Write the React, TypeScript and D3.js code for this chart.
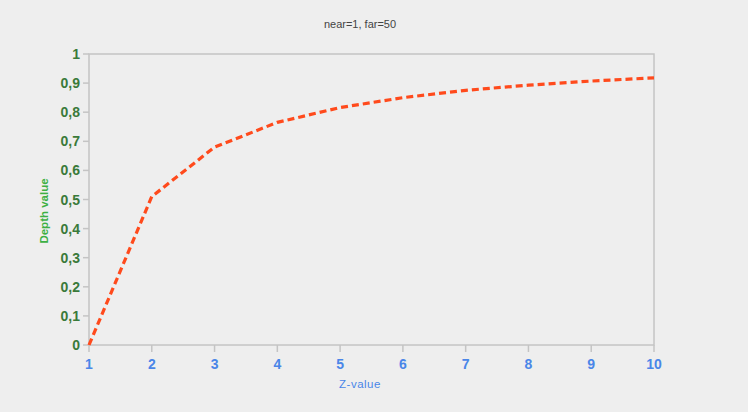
import React from "react";
import * as d3 from "d3";

const zValues = [1, 2, 3, 4, 5, 6, 7, 8, 9, 10];
const depthValues = [0, 0.51, 0.68, 0.765, 0.816, 0.85, 0.875, 0.893, 0.907, 0.918];
const yTicks = [0, 0.1, 0.2, 0.3, 0.4, 0.5, 0.6, 0.7, 0.8, 0.9, 1];
const xTicks = [1, 2, 3, 4, 5, 6, 7, 8, 9, 10];
const titleText = "near=1, far=50";
const xLabel = "Z-value";
const yLabel = "Depth value";

const W = 748, H = 412;
const left = 89, right = 654, top = 54, bottom = 345;

export default function App() {
  const x = d3.scaleLinear().domain([1, 10]).range([left, right]);
  const y = d3.scaleLinear().domain([0, 1]).range([bottom, top]);
  const line = d3.line<number>().x((_, i) => x(zValues[i])).y((d) => y(d));
  const path = line(depthValues) || "";
  const fmt = (v: number) => String(v).replace(".", ",");
  const axisCol = "#c4c4c4";
  return (
    <svg width={W} height={H} style={{ position: "absolute", left: 0, top: 0, background: "#eeeeee" }}
      fontFamily="'Liberation Sans', Arial, sans-serif">
      <rect x={0} y={0} width={W} height={H} fill="#eeeeee" />
      <text x={360} y={28} textAnchor="middle" fontSize={11} fill="#444">{titleText}</text>
      <rect x={left} y={top} width={right - left} height={bottom - top} fill="none" stroke={axisCol} strokeWidth={1.5} />
      {yTicks.map((t) => (
        <g key={"y" + t}>
          <line x1={left - 6} x2={left} y1={y(t)} y2={y(t)} stroke={axisCol} strokeWidth={1.5} />
          <text x={left - 9} y={y(t)} dy="0.36em" textAnchor="end" fontSize={14} fontWeight="bold" fill="#3a7a3a">{fmt(t)}</text>
        </g>
      ))}
      {xTicks.map((t) => (
        <g key={"x" + t}>
          <line x1={x(t)} x2={x(t)} y1={bottom} y2={bottom + 7} stroke={axisCol} strokeWidth={1.5} />
          <text x={x(t)} y={bottom + 24} textAnchor="middle" fontSize={14} fontWeight="bold" fill="#4a86e8">{t}</text>
        </g>
      ))}
      <text x={360} y={bottom + 43} textAnchor="middle" fontSize={11.5} fill="#4a86e8" letterSpacing={0.5}>{xLabel}</text>
      <text transform={`translate(48,211) rotate(-90)`} textAnchor="middle" fontSize={11.5} fontWeight="bold" fill="#3cb043">{yLabel}</text>
      <path d={path} fill="none" stroke="#ff4a1c" strokeWidth={3.2} strokeDasharray="7,4" />
    </svg>
  );
}
